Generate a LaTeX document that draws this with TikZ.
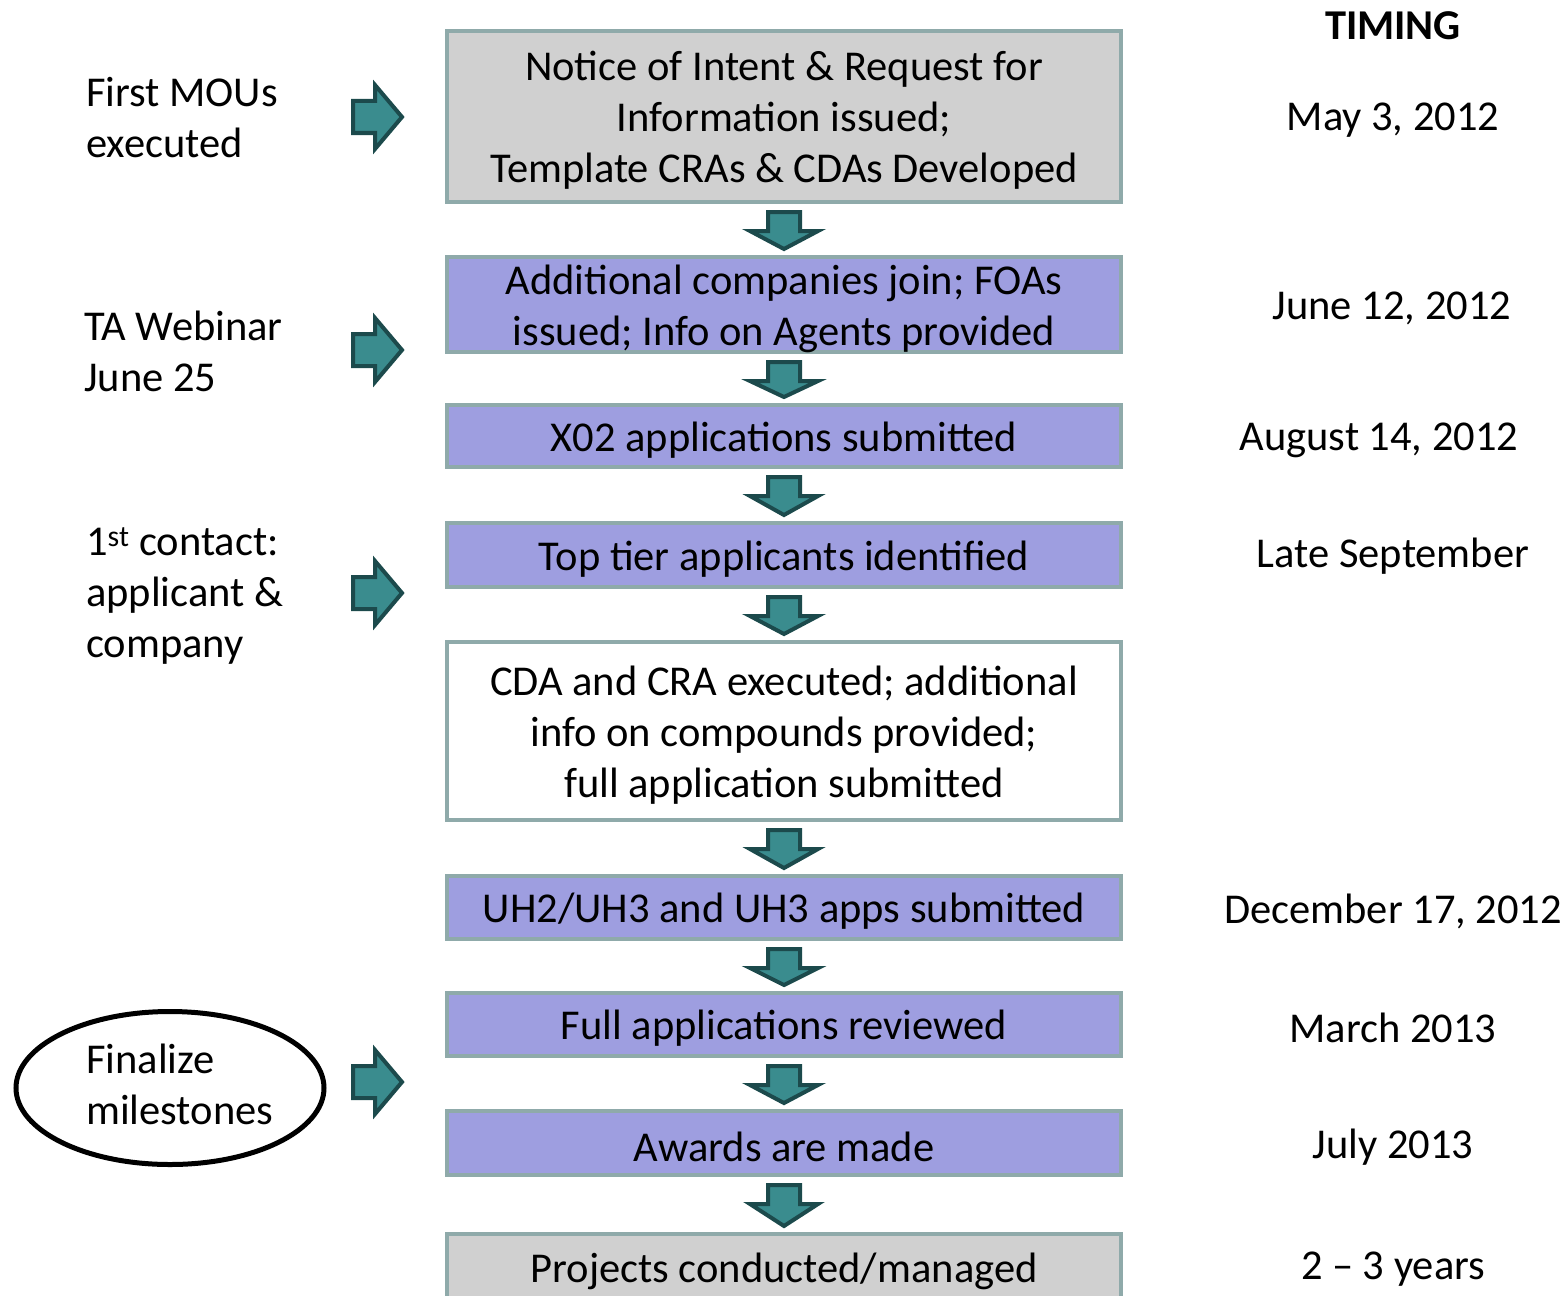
\documentclass[tikz,border=0pt]{standalone}
\usepackage{fontspec}
\setmainfont{Carlito}
\usetikzlibrary{calc,shapes.geometric}
\definecolor{boxgray}{RGB}{208,208,208}
\definecolor{boxpurple}{RGB}{158,158,224}
\definecolor{boxedge}{RGB}{143,170,170}
\definecolor{arrfill}{RGB}{58,140,142}
\definecolor{arredge}{RGB}{28,74,76}
\newcommand{\bigfont}{\fontsize{42.5}{51}\selectfont}
\tikzset{
  txt/.style={font=\bigfont, inner sep=0pt},
  stepbox/.style={draw=boxedge, line width=4pt, minimum width=674pt, inner sep=0pt},
  boxtext/.style={label={[txt, align=center, yshift=-4pt]center:{#1}}},
  graybox/.style={stepbox, fill=boxgray},
  purplebox/.style={stepbox, fill=boxpurple},
  whitebox/.style={stepbox, fill=white},
  arrshape/.style={fill=arrfill, draw=arredge, line width=4pt, line join=miter},
  sidetxt/.style={txt, align=left, anchor=west},
  timetxt/.style={txt, align=center},
}
\newcommand{\downarr}[2]{%
  \draw[arrshape] ($(#1.south)+(-16,8)$) -- ($(#1.south)+(16,8)$) -- ($(#1.south)+(16,27)$) -- ($(#1.south)+(34,27)$)
    -- ($(#2.north)+(0,-6)$) -- ($(#1.south)+(-34,27)$) -- ($(#1.south)+(-16,27)$) -- cycle;}
\newcommand{\rightarr}[2]{%
  \coordinate (#1) at (353,#2);
  \draw[arrshape] ($(#1)+(0,-16)$) -- ($(#1)+(22,-16)$) -- ($(#1)+(22,-32)$) -- ($(#1)+(49,0)$)
    -- ($(#1)+(22,32)$) -- ($(#1)+(22,16)$) -- ($(#1)+(0,16)$) -- cycle;}
\begin{document}
\begin{tikzpicture}[x=1pt,y=-1pt]
\useasboundingbox (0,0) rectangle (1565,1295);
\clip (0,0) rectangle (1565,1295);
\fill[white] (0,0) rectangle (1565,1295);

% boxes
\node[graybox, minimum height=171pt, boxtext={Notice of Intent \& Request for\\Information issued;\\Template CRAs \& CDAs Developed}] (b1) at (784,116.5) {};
\node[purplebox, minimum height=95pt, boxtext={Additional companies join; FOAs\\issued; Info on Agents provided}] (b2) at (784,304.5) {};
\node[purplebox, minimum height=62pt, boxtext={X02 applications submitted}] (b3) at (784,436) {};
\node[purplebox, minimum height=64pt, boxtext={Top tier applicants identified}] (b4) at (784,555) {};
\node[whitebox, minimum height=178pt, boxtext={CDA and CRA executed; additional\\info on compounds provided;\\full application submitted}] (b5) at (784,731) {};
\node[purplebox, minimum height=63pt, boxtext={UH2/UH3 and UH3 apps submitted}] (b6) at (784,907.5) {};
\node[purplebox, minimum height=63pt, boxtext={Full applications reviewed}] (b7) at (784,1024.5) {};
\node[purplebox, minimum height=64pt, boxtext={Awards are made}] (b8) at (784,1143) {};
\node[graybox, minimum height=70pt, label={[txt, yshift=-2pt]center:Projects conducted/managed}] (b9) at (784,1269) {};

% down arrows
\downarr{b1}{b2}
\downarr{b2}{b3}
\downarr{b3}{b4}
\downarr{b4}{b5}
\downarr{b5}{b6}
\downarr{b6}{b7}
\downarr{b7}{b8}
\downarr{b8}{b9}

% right arrows
\rightarr{r1}{117}
\rightarr{r2}{350}
\rightarr{r3}{593}
\rightarr{r4}{1082}

% left texts
\node[sidetxt] (l1) at (86,118) {First MOUs\\executed};
\node[sidetxt] (l2) at (84,351) {TA Webinar\\June 25};
\node[sidetxt] (l3) at (86,596) {1\textsuperscript{st} contact:\\applicant \&\\company};
\node[draw=black, line width=5pt, ellipse, minimum width=308pt, minimum height=153pt, inner sep=0pt] (ell) at (170,1088) {};
\node[sidetxt] (l4) at (86,1084) {Finalize\\milestones};

% timing
\node[timetxt, font=\bigfont\bfseries] (tt) at (1393,26) {TIMING};
\node[timetxt] (t1) at (1393,120) {May 3, 2012};
\node[timetxt] (t2) at (1392,308) {June 12, 2012};
\node[timetxt] (t3) at (1379,440) {August 14, 2012};
\node[timetxt] (t4) at (1393,556) {Late September};
\node[timetxt] (t5) at (1393,911) {December 17, 2012};
\node[timetxt] (t6) at (1393,1028) {March 2013};
\node[timetxt] (t7) at (1393,1147) {July 2013};
\node[timetxt] (t8) at (1393,1269) {2 -- 3 years};
\end{tikzpicture}
\end{document}
